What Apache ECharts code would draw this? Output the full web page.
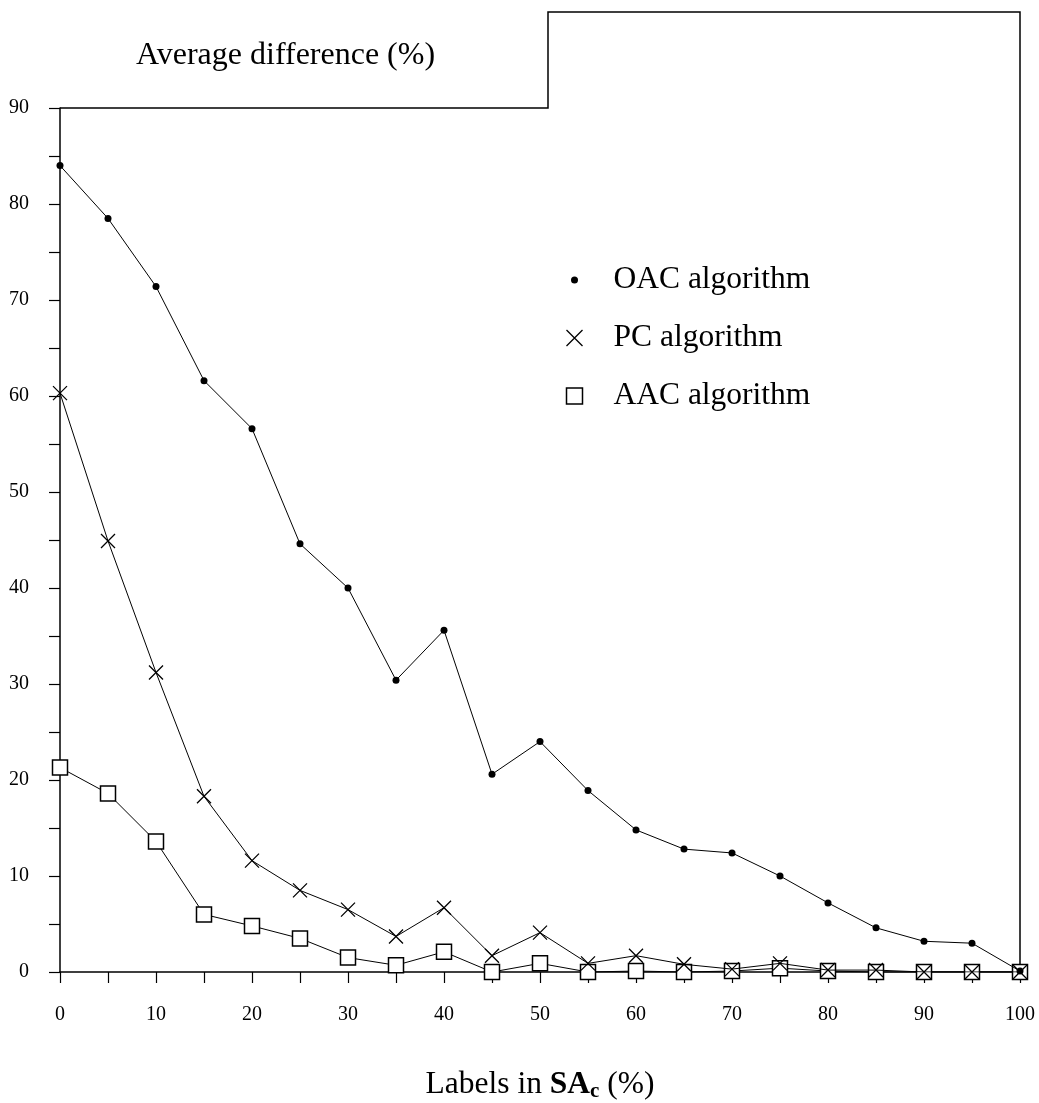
<!DOCTYPE html>
<html>
<head>
<meta charset="utf-8">
<script src="https://cdn.jsdelivr.net/npm/echarts@6/dist/echarts.min.js"></script>
<style>
  html, body { margin: 0; padding: 0; background: #fff; }
  #chart { width: 1039px; height: 1103px; }
</style>
</head>
<body>
<div id="chart"></div>
<script>
// labels in SA_c (%)
const xValues = [0, 5, 10, 15, 20, 25, 30, 35, 40, 45, 50, 55, 60, 65, 70, 75, 80, 85, 90, 95, 100];

// average difference (%)
const oacValues = [84.0, 78.5, 71.4, 61.6, 56.6, 44.6, 40.0, 30.4, 35.6, 20.6, 24.0, 18.9, 14.8, 12.8, 12.4, 10.0, 7.2, 4.6, 3.2, 3.0, 0.1];
const pcValues = [60.3, 44.9, 31.2, 18.3, 11.6, 8.5, 6.5, 3.7, 6.7, 1.7, 4.1, 0.9, 1.7, 0.8, 0.3, 0.9, 0.2, 0.2, 0.0, 0.0, 0.0];
const aacValues = [21.3, 18.6, 13.6, 6.0, 4.8, 3.5, 1.5, 0.7, 2.1, 0.0, 0.9, 0.0, 0.1, 0.0, 0.1, 0.4, 0.1, 0.0, 0.0, 0.0, 0.0];

const seriesNames = ['OAC algorithm', 'PC algorithm', 'AAC algorithm'];

const FONT = '"Liberation Serif", "Times New Roman", serif';
const crossPath = 'path://M0,0L10,10M10,0L0,10';
const dotIcon = 'path://M0,0M16,16M8,4.5a3.5,3.5 0 1,1 0,7a3.5,3.5 0 1,1 0,-7z';

function pairs(vals) {
  return xValues.map((x, i) => [x, vals[i]]);
}

// only every second tick gets a label
function tenLabel(v) {
  return v % 10 === 0 ? String(v) : '';
}

const chart = echarts.init(document.getElementById('chart'), null, { renderer: 'canvas' });

const option = {
  backgroundColor: '#fff',
  animation: false,
  title: {
    text: 'Average difference (%)',
    left: 131,
    top: 35,
    textStyle: { fontFamily: FONT, fontSize: 32, fontWeight: 'normal', color: '#000' }
  },
  legend: {
    orient: 'vertical',
    left: 559,
    top: 258,
    itemWidth: 16,
    itemHeight: 16,
    itemGap: 24,
    selectedMode: false,
    textStyle: { fontFamily: FONT, fontSize: 31.5, color: '#000', lineHeight: 34, padding: [0, 0, 0, 26] },
    data: [
      { name: seriesNames[0], icon: dotIcon, itemStyle: { color: '#000', borderWidth: 0 } },
      { name: seriesNames[1], icon: crossPath, itemStyle: { color: 'none', borderColor: '#000', borderWidth: 1.3 } },
      { name: seriesNames[2], icon: 'rect', itemStyle: { color: '#fff', borderColor: '#000', borderWidth: 1.5 } }
    ]
  },
  grid: { left: 60, right: 19, top: 108, bottom: 131, containLabel: false, outerBoundsMode: 'none' },
  xAxis: {
    type: 'value',
    min: 0,
    max: 100,
    interval: 5,
    name: 'Labels in {b|SA}{s|c} (%)',
    nameLocation: 'middle',
    nameGap: 93,
    nameTextStyle: {
      fontFamily: FONT, fontSize: 31.5, color: '#000', lineHeight: 40,
      rich: {
        b: { fontFamily: FONT, fontSize: 31.5, fontWeight: 'bold', color: '#000', lineHeight: 40 },
        s: { fontFamily: FONT, fontSize: 21, fontWeight: 'bold', color: '#000', lineHeight: 40, padding: [14, 0, 0, 0] }
      }
    },
    axisLine: { lineStyle: { color: '#000', width: 1.5 } },
    axisTick: { length: 11, lineStyle: { color: '#000', width: 1.2 } },
    axisLabel: { formatter: tenLabel, margin: 33, fontFamily: FONT, fontSize: 20, color: '#000' },
    splitLine: { show: false }
  },
  yAxis: {
    type: 'value',
    min: 0,
    max: 90,
    interval: 5,
    axisLine: { show: true, lineStyle: { color: '#000', width: 1.5 } },
    axisTick: { show: true, length: 11, lineStyle: { color: '#000', width: 1.2 } },
    axisLabel: { formatter: tenLabel, margin: 31, fontFamily: FONT, fontSize: 20, color: '#000' },
    splitLine: { show: false }
  },
  series: [
    {
      name: seriesNames[2],
      type: 'line',
      data: pairs(aacValues),
      symbol: 'rect',
      symbolSize: 15,
      lineStyle: { color: '#000', width: 1 },
      itemStyle: { color: '#fff', borderColor: '#000', borderWidth: 1.5 },
      z: 2
    },
    {
      name: seriesNames[1],
      type: 'line',
      data: pairs(pcValues),
      symbol: crossPath,
      symbolSize: 14,
      lineStyle: { color: '#000', width: 1 },
      itemStyle: { color: 'none', borderColor: '#000', borderWidth: 1.3 },
      z: 3
    },
    {
      name: seriesNames[0],
      type: 'line',
      data: pairs(oacValues),
      symbol: 'circle',
      symbolSize: 7,
      lineStyle: { color: '#000', width: 1 },
      itemStyle: { color: '#000', borderWidth: 0 },
      z: 4
    }
  ]
};

chart.setOption(option);

// stepped frame around the plot (decoration, not data)
const topRight = chart.convertToPixel({ gridIndex: 0 }, [100, 90]);
const origin = chart.convertToPixel({ gridIndex: 0 }, [0, 0]);
const stepX = 548;
const frameTop = 12;
chart.setOption({
  graphic: [{
    type: 'polyline',
    silent: true,
    shape: {
      points: [
        [origin[0], topRight[1]],
        [stepX, topRight[1]],
        [stepX, frameTop],
        [topRight[0], frameTop],
        [topRight[0], origin[1]]
      ]
    },
    style: { stroke: '#000', lineWidth: 1.5, fill: null }
  }]
});
</script>
</body>
</html>
